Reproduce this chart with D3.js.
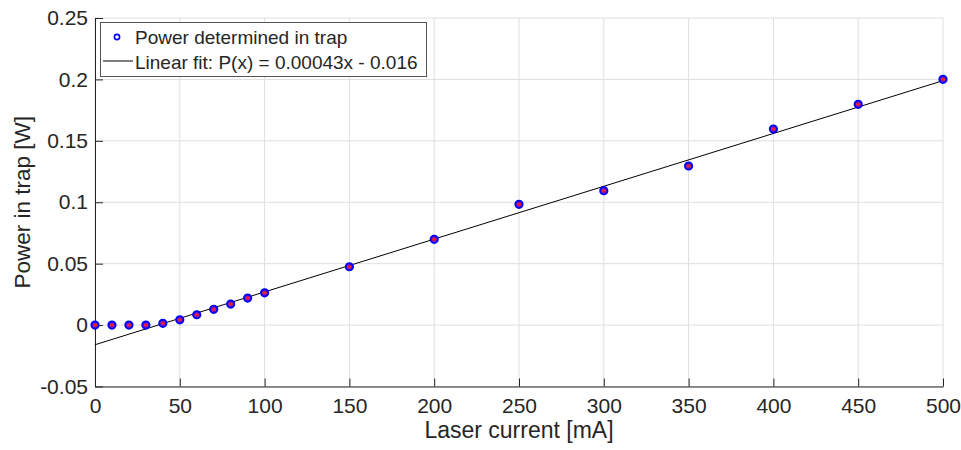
<!DOCTYPE html>
<html><head><meta charset="utf-8">
<script src="https://cdn.jsdelivr.net/npm/d3@7"></script>
<style>body{margin:0;background:#fff}svg{display:block}text{font-family:"Liberation Sans",Arial,sans-serif;fill:#262626}</style>
</head><body><svg id="c" width="961" height="450"></svg>
<script>
const current = [0,10,20,30,40,50,60,70,80,90,100,150,200,250,300,350,400,450,500];
const power = [0,0,0,0,0.0014,0.0043,0.0084,0.0128,0.0171,0.022,0.0263,0.0475,0.0698,0.0983,0.1094,0.1295,0.1596,0.1797,0.2001];
const fitSlope = 0.00043, fitIntercept = -0.016;
const xTicks = [0,50,100,150,200,250,300,350,400,450,500];
const yTicks = [-0.05,0,0.05,0.1,0.15,0.2,0.25];
const yTickLabels = ["-0.05","0","0.05","0.1","0.15","0.2","0.25"];
const legendLabels = ["Power determined in trap","Linear fit: P(x) = 0.00043x - 0.016"];
const xLabel = "Laser current [mA]", yLabel = "Power in trap [W]";

const svg = d3.select("#c");
const L=95,R=943,T=18,B=386.5;
const x = d3.scaleLinear().domain([0,500]).range([L,R]);
const y = d3.scaleLinear().domain([-0.05,0.25]).range([B,T]);

// grid
const g = svg.append("g");
g.selectAll(".gx").data(xTicks).join("line").attr("x1",d=>x(d)).attr("x2",d=>x(d)).attr("y1",T).attr("y2",B).attr("stroke","#dfdfdf").attr("stroke-width",1);
g.selectAll(".gy").data(yTicks).join("line").attr("x1",L).attr("x2",R).attr("y1",d=>y(d)).attr("y2",d=>y(d)).attr("stroke","#dfdfdf").attr("stroke-width",1);

// axes
const xa = svg.append("g").attr("transform",`translate(0,${B})`).call(d3.axisBottom(x).tickValues(xTicks).tickSizeInner(-8).tickSizeOuter(0).tickPadding(12));
const ya = svg.append("g").attr("transform",`translate(${L},0)`).call(d3.axisLeft(y).tickValues(yTicks).tickFormat((d,i)=>yTickLabels[i]).tickSizeInner(-8).tickSizeOuter(0).tickPadding(7));
[xa,ya].forEach(a=>{a.select(".domain").attr("stroke","#262626");a.selectAll(".tick line").attr("stroke","#262626");a.selectAll("text").attr("font-size",21).attr("fill","#262626").attr("font-family","Liberation Sans, Arial, sans-serif");});

// fit line
const line = d3.line().x(d=>x(d)).y(d=>y(fitSlope*d+fitIntercept));
svg.append("path").datum([0,500]).attr("d",line).attr("stroke","#000").attr("stroke-width",1).attr("fill","none");

// markers
const pts = svg.append("g").selectAll("g").data(current.map((c,i)=>[c,power[i]])).join("g").attr("transform",d=>`translate(${x(d[0])},${y(d[1])})`);
pts.append("circle").attr("r",3.6).attr("fill","#a01890").attr("stroke","#0000ff").attr("stroke-width",2);
pts.append("line").attr("x1",-2).attr("x2",2).attr("stroke","#ff2020").attr("stroke-width",1.5);

// labels
svg.append("text").attr("x",(L+R)/2).attr("y",438).attr("text-anchor","middle").attr("font-size",23).text(xLabel);
svg.append("text").attr("transform",`translate(30,${(T+B)/2}) rotate(-90)`).attr("text-anchor","middle").attr("font-size",22.5).text(yLabel);

// legend
const lg = svg.append("g");
lg.append("rect").attr("x",100.5).attr("y",22.5).attr("width",326).attr("height",54).attr("fill","#fff").attr("stroke","#555").attr("stroke-width",1);
lg.append("circle").attr("cx",117).attr("cy",37).attr("r",2.6).attr("fill","none").attr("stroke","#0000ff").attr("stroke-width",1.6);
lg.append("line").attr("x1",103).attr("x2",133).attr("y1",61).attr("y2",61).attr("stroke","#000").attr("stroke-width",1);
lg.selectAll("text.l").data(legendLabels).join("text").attr("x",135).attr("y",(d,i)=>i?69:43.5).attr("font-size",19).text(d=>d);
</script></body></html>
